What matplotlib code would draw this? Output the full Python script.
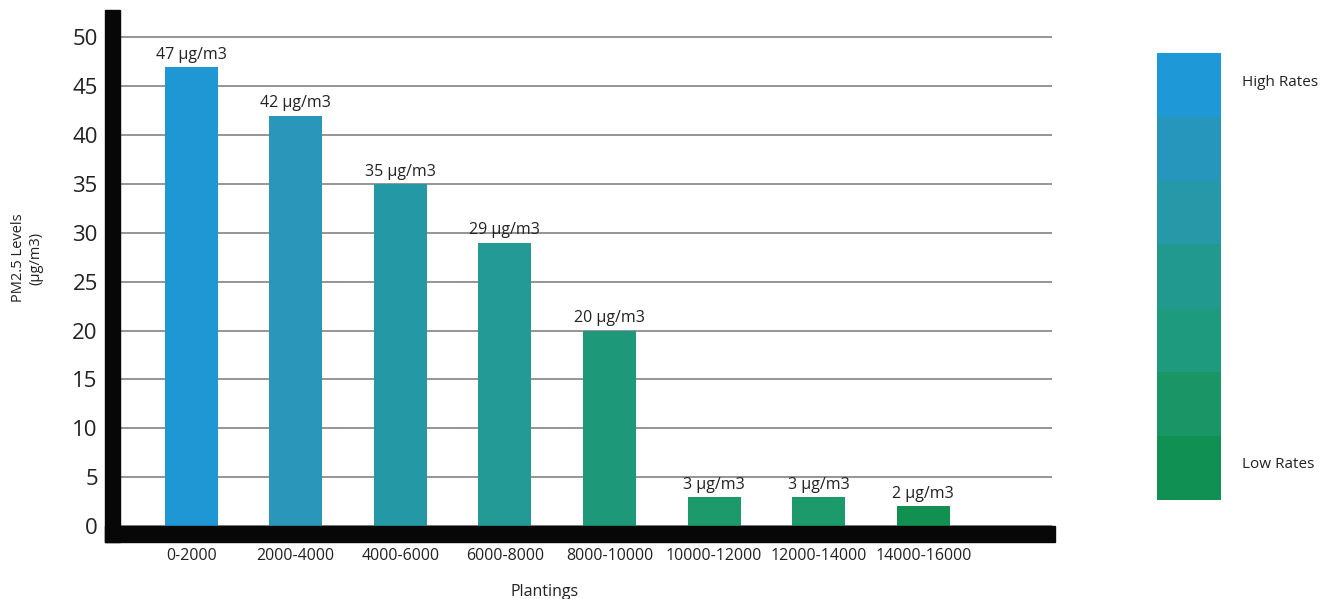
import matplotlib
matplotlib.use("Agg")
import matplotlib.pyplot as plt
from matplotlib.patches import Rectangle
from matplotlib.colors import ListedColormap
import numpy as np

plt.rcParams['font.family'] = ['Open Sans', 'DejaVu Sans']

# PM2.5 by number of plantings
plantings = ["0-2000", "2000-4000", "4000-6000", "6000-8000", "8000-10000",
             "10000-12000", "12000-14000", "14000-16000"]
pm25 = [47, 42, 35, 29, 20, 3, 3, 2]
bar_colors = ["#1f97d4", "#2a96b9", "#2598a5", "#239a96", "#1d997a",
              "#1c9a6b", "#1c9a6b", "#12904f"]
y_ticks = [0, 5, 10, 15, 20, 25, 30, 35, 40, 45, 50]

# colour key, high to low
key_colors = ["#1e98d6", "#2796bc", "#2698a8", "#22998f", "#1e9a7e",
              "#1a9566", "#119053"]

W, H = 1334, 599
fig = plt.figure(figsize=(W / 100, H / 100), dpi=100)
ax = fig.add_axes([120 / W, 1 - 526 / H, (1052 - 120) / W, (526 - 10) / H])

x = np.arange(len(plantings))
bars = ax.bar(x, pm25, width=0.507, color=bar_colors, zorder=3)
ax.bar_label(bars, labels=[f"{v} µg/m3" for v in pm25], padding=3,
             fontsize=11.5, color="#222222")

ax.set_xlim(-0.68, 8.23)
ax.set_ylim(0, 52.8)
ax.set_yticks(y_ticks)
ax.set_xticks(x)
ax.set_xticklabels(plantings, fontsize=11.5, color="#222222")
ax.tick_params(axis='y', length=0, pad=16, labelsize=16, labelcolor="#222222")
ax.tick_params(axis='x', length=0, pad=16)
ax.yaxis.grid(True, color="#8c8c8c", linewidth=1.3, zorder=0)
ax.set_axisbelow(True)
for s in ax.spines.values():
    s.set_visible(False)

# heavy black axis bars
fig.patches.append(Rectangle((105 / W, 1 - 542 / H), 15 / W, (542 - 10) / H,
                             transform=fig.transFigure, color="#070707"))
fig.patches.append(Rectangle((105 / W, 1 - 542 / H), (1055 - 105) / W, 16 / H,
                             transform=fig.transFigure, color="#070707"))

fig.text(27 / W, 1 - 258 / H, "PM2.5 Levels\n(µg/m3)", rotation=90,
         ha="center", va="center", fontsize=10.5, color="#222222")
fig.text(545 / W, 1 - 592 / H, "Plantings", ha="center", va="center",
         fontsize=11.5, color="#222222")

# colour key
kax = fig.add_axes([1157 / W, 1 - 500 / H, (1221 - 1157) / W, (500 - 53) / H])
kax.imshow(np.arange(len(key_colors)).reshape(-1, 1),
           cmap=ListedColormap(key_colors), aspect="auto", interpolation="nearest")
kax.axis("off")
fig.text(1242 / W, 1 - 82 / H, "High Rates", ha="left", va="center",
         fontsize=11, color="#222222")
fig.text(1242 / W, 1 - 465 / H, "Low Rates", ha="left", va="center",
         fontsize=11, color="#222222")

fig.savefig("out.png", dpi=100)
